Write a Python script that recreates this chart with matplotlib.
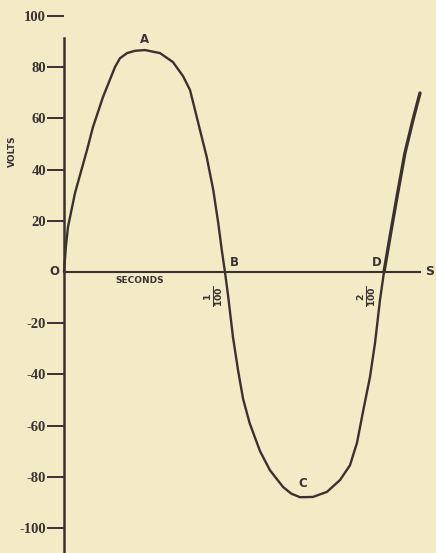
import matplotlib.pyplot as plt

# time in hundredths of a second, volts
t_hund = [0.0, 0.012, 0.025, 0.069, 0.144, 0.181, 0.244, 0.319, 0.35, 0.394,
          0.444, 0.506, 0.6, 0.681, 0.744, 0.7875, 0.81, 0.839, 0.892, 0.933,
          0.964, 0.986, 1.006,
          1.025, 1.056, 1.0875, 1.119, 1.16, 1.225, 1.2875, 1.369, 1.42,
          1.475, 1.556, 1.644, 1.725, 1.7875, 1.831, 1.871, 1.9125, 1.944,
          1.975, 2.0]
volts = [0.0, 10.0, 17.6, 30.9, 47.7, 56.6, 68.4, 80.1, 83.5, 85.5,
         86.4, 86.7, 85.5, 82.0, 76.5, 71.1, 65.5, 58.2, 44.9, 32.0,
         19.1, 8.6, 0.0,
         -9.0, -25.4, -38.3, -49.5, -59.0, -70.0, -77.5, -84.0, -86.6,
         -88.0, -87.9, -85.9, -81.3, -75.5, -66.8, -53.9, -41.0, -27.7,
         -10.9, 0.0]
# last rising stretch (drawn a bit heavier in the original)
t_tail = [2.0, 2.0375, 2.081, 2.131, 2.181, 2.225]
v_tail = [0.0, 13.7, 29.3, 46.5, 59.4, 69.9]

yticks = [100, 80, 60, 40, 20, -20, -40, -60, -80, -100]
ytick_labels = ["100", "80", "60", "40", "20", "-20", "-40", "-60", "-80", "-100"]
points = {"A": (0.506, 86.7), "B": (1.006, 0), "C": (1.475, -88.0), "D": (2.0, 0)}

paper = "#f2ebc6"
ink = "#3b3131"

fig = plt.figure(figsize=(4.36, 5.53), dpi=100, facecolor=paper)
ax = fig.add_axes([0, 0, 1, 1], facecolor=paper)
ax.set_xlim(-0.4, 2.325)
ax.set_ylim(-109.8, 106.25)

ax.plot(t_hund, volts, color=ink, lw=1.7, solid_joinstyle="round", solid_capstyle="round")
ax.plot(t_tail, v_tail, color=ink, lw=2.4, solid_joinstyle="round", solid_capstyle="round")

# axes drawn like the book figure
for s in ["top", "right", "bottom"]:
    ax.spines[s].set_visible(False)
ax.spines["left"].set_position(("data", 0))
ax.spines["left"].set_bounds(-110, 91.4)
ax.spines["left"].set_color(ink)
ax.spines["left"].set_linewidth(1.8)
ax.plot([0, 2.225], [0, 0], color=ink, lw=1.5)

ax.set_xticks([])
ax.set_yticks(yticks)
ax.set_yticklabels(ytick_labels, family="Liberation Serif", fontweight="bold",
                   fontsize=10.5, color=ink)
ax.tick_params(axis="y", direction="out", length=12, width=1.4, color=ink, pad=1)

sans = dict(family="DejaVu Sans", fontweight="bold", color=ink)
ax.text(-0.32, 47, "VOLTS", rotation=90, ha="center", va="center", fontsize=6.5, **sans)
ax.text(0.47, -3.5, "SECONDS", ha="center", va="center", fontsize=6.5, **sans)
ax.text(-0.06, 0, "O", ha="center", va="center", fontsize=8.5, **sans)
ax.text(points["A"][0], points["A"][1] + 4, "A", ha="center", va="center", fontsize=8.5, **sans)
ax.text(points["B"][0] + 0.06, points["B"][1] + 3.5, "B", ha="center", va="center", fontsize=8.5, **sans)
ax.text(points["C"][0] + 0.02, points["C"][1] + 5.5, "C", ha="center", va="center", fontsize=8.5, **sans)
ax.text(points["D"][0] - 0.045, points["D"][1] + 3.5, "D", ha="center", va="center", fontsize=8.5, **sans)
ax.text(2.285, 0, "S", ha="center", va="center", fontsize=9, **sans)

ax.text(0.945, -9.5, r"$\mathbf{\frac{1}{100}}$", rotation=90, ha="center", va="center",
        fontsize=9.5, color=ink)
ax.text(1.9, -9.5, r"$\mathbf{\frac{2}{100}}$", rotation=90, ha="center", va="center",
        fontsize=9.5, color=ink)

fig.savefig("out.png", dpi=100, facecolor=paper)
